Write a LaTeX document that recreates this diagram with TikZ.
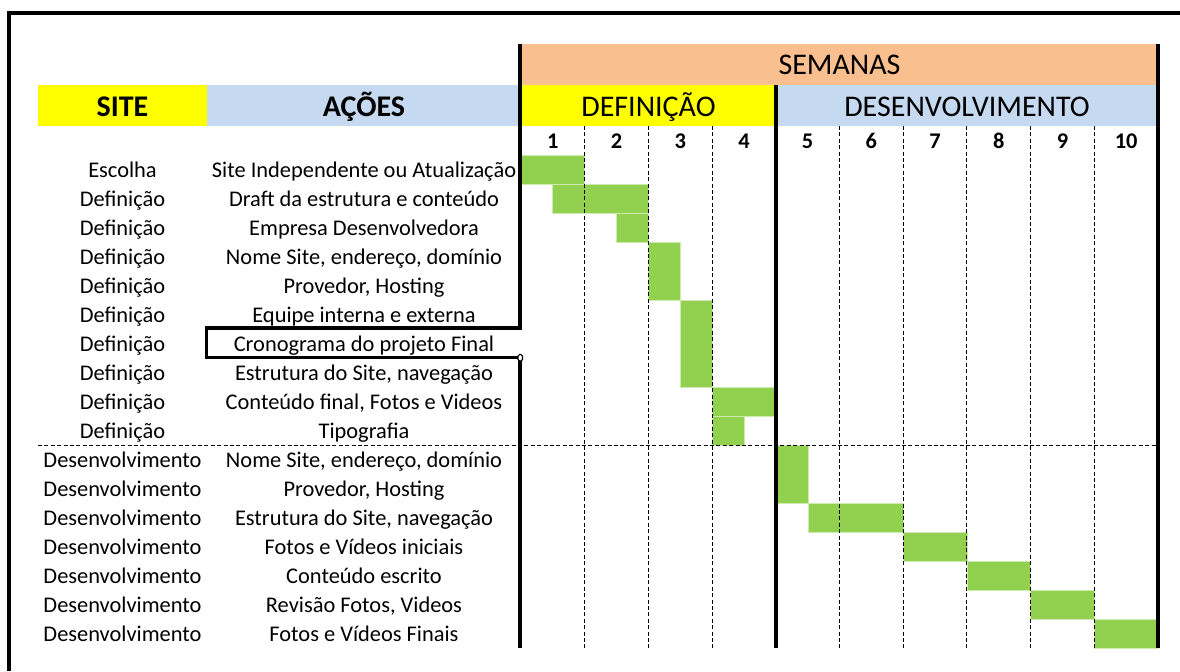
\documentclass[tikz,border=0pt]{standalone}
\usepackage{fontspec}
\setmainfont{Carlito}
\definecolor{gbar}{HTML}{92D050}
\definecolor{orng}{HTML}{FABF8F}
\definecolor{lblue}{HTML}{C5D9F1}
\definecolor{yel}{HTML}{FFFF00}
\begin{document}
\begin{tikzpicture}[x=0.5pt,y=-0.5pt,
  heavy/.style={line width=1.8pt},
  frameline/.style={line width=1.6pt},
  dashline/.style={dash pattern=on 2pt off 1.2pt, line width=0.45pt},
  rowtxt/.style={inner sep=0pt, anchor=base, font=\fontsize{11.2}{13}\selectfont},
  hdr/.style={inner sep=0pt, anchor=base, font=\fontsize{15}{18}\selectfont},
  hdrb/.style={inner sep=0pt, anchor=base, font=\fontsize{15}{18}\selectfont\bfseries},
  wk/.style={inner sep=0pt, anchor=base, font=\fontsize{11.2}{13}\selectfont\bfseries},
  barbox/.style={fill=gbar, draw=gbar!45!white, line width=0.3pt}]
\useasboundingbox (0,0) rectangle (1180,671);

% outer frame
\draw[frameline] (9,671) -- (9,13) -- (1180,13);

% header bands
\fill[orng] (521,44) rectangle (1158,85);
\fill[yel] (38,85) rectangle (207,126);
\fill[lblue] (207,85) rectangle (521,126);
\fill[yel] (521,85) rectangle (776,126);
\fill[lblue] (776,85) rectangle (1158,126);

% green bars: x1/x2/first row/end row
\foreach \xa/\xb/\ra/\rb in {521/584.7/0/1, 552.5/648.4/1/2, 616.5/648.4/2/3,
   648.4/680.3/3/5, 680.3/712.1/5/8, 712.1/775.8/8/9, 712.1/744/9/10,
   775.8/808/10/12, 808/903.2/12/13, 903.2/966.9/13/14, 966.9/1030.6/14/15,
   1030.6/1094.3/15/16, 1094.3/1158/16/17}
  \path[barbox] (\xa,{155+29*\ra}) rectangle (\xb,{155+29*\rb});

% dashed grid
\foreach \x in {584.7,648.4,712.1,839.5,903.2,966.9,1030.6,1094.3}
  \draw[dashline] (\x,126) -- (\x,648);
\draw[dashline] (38,445) -- (1158,445);

% heavy lines and selected cell
\draw[heavy] (520,44) -- (520,328) -- (206.5,328) -- (206.5,357.5) -- (520,357.5) -- (520,648);
\draw[heavy] (776,85) -- (776,648);
\draw[heavy] (1158,44) -- (1158,648);
\draw[fill=white, line width=0.6pt, rounded corners=0.8pt] (518,354.5) rectangle (522.5,361);

% header texts
\node[hdr] (sem) at (839.5,74) {SEMANAS};
\node[hdrb] (site) at (122.5,116) {SITE};
\node[hdrb] (acoes) at (364,116) {AÇÕES};
\node[hdr] (def) at (648.5,116) {DEFINIÇÃO};
\node[hdr] (des) at (967,116) {DESENVOLVIMENTO};

% week numbers
\foreach \k in {1,...,10}
  \node[wk] (w\k) at ({521+63.7*(\k-0.5)},148) {\k};

% rows
\foreach \s/\a [count=\i from 0] in {
  Escolha/{Site Independente ou Atualização},
  Definição/{Draft da estrutura e conteúdo},
  Definição/{Empresa Desenvolvedora},
  Definição/{Nome Site, endereço, domínio},
  Definição/{Provedor, Hosting},
  Definição/{Equipe interna e externa},
  Definição/{Cronograma do projeto Final},
  Definição/{Estrutura do Site, navegação},
  Definição/{Conteúdo final, Fotos e Videos},
  Definição/{Tipografia},
  Desenvolvimento/{Nome Site, endereço, domínio},
  Desenvolvimento/{Provedor, Hosting},
  Desenvolvimento/{Estrutura do Site, navegação},
  Desenvolvimento/{Fotos e Vídeos iniciais},
  Desenvolvimento/{Conteúdo escrito},
  Desenvolvimento/{Revisão Fotos, Videos},
  Desenvolvimento/{Fotos e Vídeos Finais}}
{
  \node[rowtxt] (s\i) at (122.5,{177+29*\i}) {\s};
  \node[rowtxt] (a\i) at (364,{177+29*\i}) {\a};
}
\end{tikzpicture}
\end{document}
